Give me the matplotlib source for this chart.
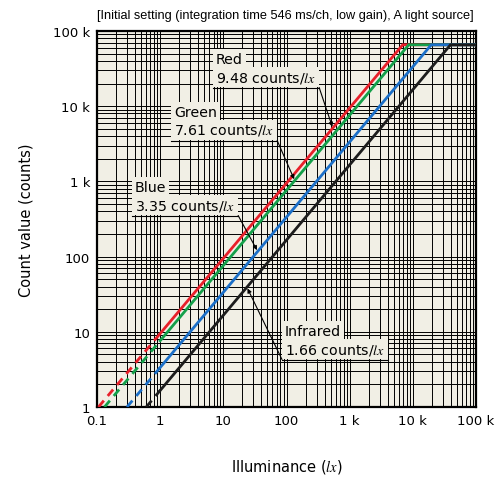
import matplotlib.pyplot as plt
from matplotlib import font_manager
from matplotlib.lines import Line2D

# values
channels = ['Red', 'Green', 'Blue', 'Infrared']
sensitivity = [9.48, 7.61, 3.35, 1.66]   # counts / lx
colors = ['#e8202a', '#14a04a', '#1b6fc8', '#1c1c1c']
saturation = 65535
x_max = 1e5
solid_from = 1.0

x_ticks = [0.1, 1, 10, 100, 1e3, 1e4, 1e5]
x_labels = ['0.1', '1', '10', '100', '1 k', '10 k', '100 k']
y_ticks = [1, 10, 100, 1e3, 1e4, 1e5]
y_labels = ['1', '10', '100', '1 k', '10 k', '100 k']

# label text top-left in picture pixels (from top-left), leader target x (lx)
label_px = {'Red': (216, 53), 'Green': (174, 106), 'Blue': (135, 181), 'Infrared': (285, 325)}
leader_x = {'Red': 540, 'Green': 135, 'Blue': 35, 'Infrared': 23.6}

W, H = 501, 481
BG = '#f1efe5'
plt.rcParams['font.family'] = ['DejaVu Sans']
plt.rcParams['mathtext.fontset'] = 'stix'

fig = plt.figure(figsize=(W / 100, H / 100), dpi=100)
ax = fig.add_axes([97 / W, 1 - 408 / H, 379 / W, 376 / H])
ax.set_facecolor(BG)
ax.set_xscale('log')
ax.set_yscale('log')
ax.set_xlim(0.1, x_max)
ax.set_ylim(1, 1e5)

ax.grid(True, which='both', color='black', lw=0.7)
ax.set_axisbelow(True)
ax.tick_params(which='both', length=0, labelsize=9.5, pad=5)
ax.set_xticks(x_ticks)
ax.set_xticklabels(x_labels)
ax.set_yticks(y_ticks)
ax.set_yticklabels(y_labels)
for s in ax.spines.values():
    s.set_linewidth(1.6)

for name, s, c in zip(channels, sensitivity, colors):
    x0 = 1.0 / s
    ax.plot([x0, solid_from], [x0 * s, solid_from * s], color=c, lw=2,
            ls=(0, (3, 2.2)), solid_capstyle='butt', zorder=3)
    x_sat = saturation / s
    ax.plot([solid_from, x_sat, x_max], [solid_from * s, saturation, saturation],
            color=c, lw=2, zorder=3, solid_joinstyle='miter')

# labels with beige boxes, underline and leader arrow
fig.canvas.draw()
renderer = fig.canvas.get_renderer()
for name, s in zip(channels, sensitivity):
    px, py = label_px[name]
    box = dict(facecolor=BG, edgecolor='none', pad=2)
    ax.text(px / W, 1 - py / H, name, fontsize=10.2, va='top', ha='left',
            bbox=box, zorder=5, transform=fig.transFigure)
    t2 = ax.text(px / W, 1 - (py + 17.5) / H, f'{s:.2f} counts/' + r'$lx$',
                 fontsize=10.2, va='top', ha='left', bbox=box, zorder=5,
                 transform=fig.transFigure)
    bb = t2.get_window_extent(renderer)
    x_left, x_right = bb.x0 - 3, bb.x1 + 3
    y_line = bb.y0 - 3
    fig.add_artist(Line2D([x_left / W, x_right / W], [y_line / H, y_line / H],
                          color='black', lw=0.8, transform=fig.transFigure, zorder=5))
    lx = leader_x[name]
    start = (x_left, y_line) if name == 'Infrared' else (x_right, y_line)
    ax.annotate('', xy=(lx, lx * s), xytext=start, textcoords='figure pixels',
                arrowprops=dict(arrowstyle='-|>', lw=0.8, color='black',
                                mutation_scale=6, shrinkA=0, shrinkB=1),
                zorder=6)

ax.set_xlabel('Illuminance (' + r'$lx$' + ')', fontsize=10.5, labelpad=22)
ax.set_ylabel('Count value (counts)', fontsize=10.5, labelpad=14)

# narrow title font: pick the narrowest face there is, fit to the axes width
title = '[Initial setting (integration time 546 ms/ch, low gain), A light source]'
fam = 'DejaVu Sans'
for cand in ['Liberation Sans Narrow', 'DejaVu Sans Condensed', 'Liberation Sans']:
    try:
        font_manager.findfont(cand, fallback_to_default=False)
        fam = cand
        break
    except ValueError:
        pass
size = 11
t = fig.text(97 / W, 1 - 16 / H, title, fontsize=size, family=fam, ha='left', va='center')
while t.get_window_extent(renderer).width > 380 and size > 6:
    size -= 0.1
    t.set_fontsize(size)

fig.savefig('out.png', dpi=100)
